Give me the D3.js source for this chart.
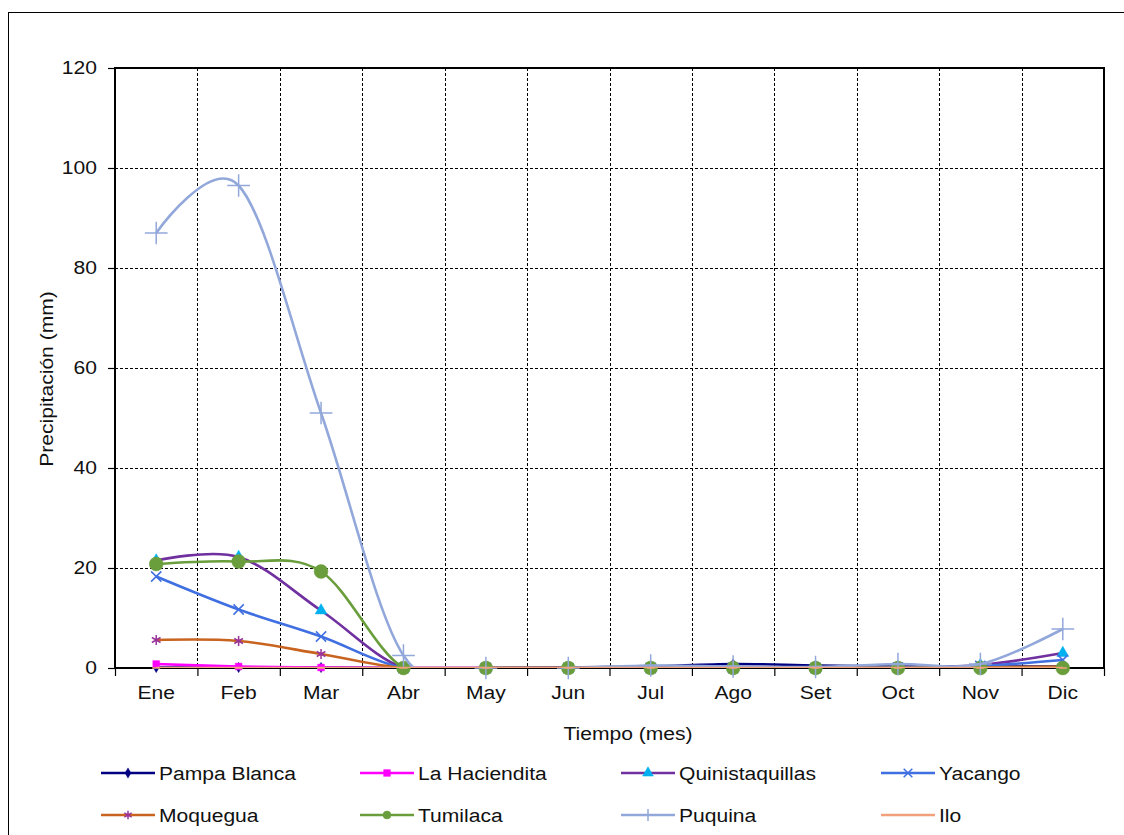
<!DOCTYPE html>
<html><head><meta charset="utf-8">
<script src="https://cdn.jsdelivr.net/npm/d3@7"></script>
<style>
html,body{margin:0;padding:0;background:#fff;}
svg text{font-family:"Liberation Sans",Arial,sans-serif;fill:#111;}
</style></head>
<body><svg id="c" width="1124" height="835"></svg>
<script>
const months = ["Ene","Feb","Mar","Abr","May","Jun","Jul","Ago","Set","Oct","Nov","Dic"];
const yTicks = [0,20,40,60,80,100,120];
const seriesNames = ["Pampa Blanca","La Haciendita","Quinistaquillas","Yacango","Moquegua","Tumilaca","Puquina","Ilo"];
const pampaBlanca    = [0.1,0.1,0.1,0,0,0.1,0.3,0.8,0.5,0.3,0.3,0.3];
const laHaciendita   = [0.8,0.3,0.1,0,0,0,0,0,0,0,0,0];
const quinistaquillas= [21.5,22.2,11.5,0,0,0,0,0,0,0.2,0.6,3.0];
const yacango        = [18.3,11.7,6.3,0,0,0,0,0,0,0.1,0.4,1.6];
const moquegua       = [5.6,5.4,2.8,0,0,0,0,0,0,0,0.1,0.3];
const tumilaca       = [20.8,21.3,19.3,0,0,0,0,0,0,0,0,0];
const puquina        = [87,96.5,51,2.5,0,0,0.5,0.3,0.2,0.8,0.8,7.8];
const ilo            = [0,0,0,0,0,0,0,0,0,0,0,0];
const seriesValues = [pampaBlanca,laHaciendita,quinistaquillas,yacango,moquegua,tumilaca,puquina,ilo];

const styles = [
  {line:"#000080", mk:"#000080", sym:"diamond", size:30},
  {line:"#FF00FF", mk:"#FF00FF", sym:"square", size:45},
  {line:"#7030A0", mk:"#00B0F0", sym:"triangle", size:60},
  {line:"#3F6FE0", mk:"#3F6FE0", sym:"times", size:70},
  {line:"#C86420", mk:"#993399", sym:"asterisk", size:70},
  {line:"#6A9E3C", mk:"#6A9E3C", sym:"circle", size:150},
  {line:"#93A8DA", mk:"#93A8DA", sym:"plus", size:170},
  {line:"#F2A07C", mk:"#F2A07C", sym:"dash", size:40}
];

const svg = d3.select("#c");
const L=115, T=68, R=1104, B=668;
const STRETCH = 1.17;
function stretch(sel){
  sel.each(function(){
    const len = this.getComputedTextLength();
    if(len>0){ d3.select(this).attr("textLength",len*STRETCH).attr("lengthAdjust","spacingAndGlyphs"); }
  });
}

svg.append("rect").attr("x",8.5).attr("y",12.5).attr("width",1140).attr("height",900)
  .attr("fill","#fff").attr("stroke","#000").attr("stroke-width",1);

const x = d3.scaleBand().domain(months).range([L,R]).paddingInner(0).paddingOuter(0);
const xb = d3.scaleLinear().domain([0,12]).range([L,R]);
const y = d3.scaleLinear().domain([0,120]).range([B,T]);
const cx = m => x(m)+x.bandwidth()/2;

// gridlines
const g = svg.append("g");
g.selectAll(".hg").data(yTicks.filter(v=>v>0&&v<120)).join("line")
  .attr("x1",L).attr("x2",R).attr("y1",d=>y(d)+0.5).attr("y2",d=>y(d)+0.5)
  .attr("stroke","#000").attr("stroke-width",1).attr("stroke-dasharray","3,2");
g.selectAll(".vg").data(d3.range(1,12)).join("line")
  .attr("x1",d=>Math.round(xb(d))+0.5).attr("x2",d=>Math.round(xb(d))+0.5).attr("y1",T).attr("y2",B)
  .attr("stroke","#000").attr("stroke-width",1).attr("stroke-dasharray","3,2");

// axes
const yAxis = svg.append("g").attr("transform",`translate(${L},0)`)
  .call(d3.axisLeft(y).tickValues(yTicks).tickSize(7).tickPadding(11));
yAxis.select(".domain").remove();
yAxis.selectAll("line").attr("stroke","#000").attr("stroke-width",1.2);
yAxis.selectAll("text").attr("font-size",18).attr("fill","#111").call(stretch);

const xTickAxis = svg.append("g").attr("transform",`translate(0,${B})`)
  .call(d3.axisBottom(xb).tickValues(d3.range(0,13)).tickSize(8).tickFormat(""));
xTickAxis.select(".domain").remove();
xTickAxis.selectAll("line").attr("stroke","#000").attr("stroke-width",1.2);

const xAxis = svg.append("g").attr("transform",`translate(0,${B})`)
  .call(d3.axisBottom(x).tickSize(0).tickPadding(18));
xAxis.select(".domain").remove();
xAxis.selectAll("text").attr("font-size",18).attr("fill","#111").call(stretch);

// plot border
svg.append("rect").attr("x",L).attr("y",T).attr("width",R-L).attr("height",B-T)
  .attr("fill","none").attr("stroke","#000").attr("stroke-width",2);

// clip
svg.append("clipPath").attr("id","clip").append("rect")
  .attr("x",L).attr("y",T).attr("width",R-L).attr("height",B-T);

function symPath(s,size){
  if(s==="dash") return `M-4,0H4`;
  const map={diamond:d3.symbolDiamond,square:d3.symbolSquare,triangle:d3.symbolTriangle,
    times:d3.symbolTimes,asterisk:d3.symbolAsterisk,circle:d3.symbolCircle,plus:d3.symbolPlus};
  return d3.symbol(map[s],size)();
}
const strokeSyms = new Set(["times","asterisk","plus","dash"]);
function drawMarker(sel, st){
  sel.attr("d",symPath(st.sym,st.size))
    .attr("fill",strokeSyms.has(st.sym)?"none":st.mk)
    .attr("stroke",st.mk).attr("stroke-width",strokeSyms.has(st.sym)?1.5:0.5);
}

const line = d3.line().x((d,i)=>cx(months[i])).y(d=>y(d)).curve(d3.curveCatmullRom.alpha(0));

seriesValues.forEach((vals,si)=>{
  const st = styles[si];
  const sg = svg.append("g");
  sg.append("path").attr("d",line(vals)).attr("fill","none").attr("stroke",st.line)
    .attr("stroke-width",2.6).attr("clip-path","url(#clip)");
  sg.selectAll("path.m").data(vals).join("path").attr("class","m")
    .attr("transform",(d,i)=>`translate(${cx(months[i])},${y(d)})`)
    .call(drawMarker, st);
});

// axis titles
svg.append("text").attr("x",628).attr("y",740).attr("text-anchor","middle")
  .attr("font-size",18).text("Tiempo (mes)").call(stretch);
svg.append("text").attr("transform",`translate(53,379) rotate(-90)`).attr("text-anchor","middle")
  .attr("font-size",18).text("Precipitación (mm)").call(stretch);

// legend
const legX=[101,360,621,881], legY=[773,815];
seriesNames.forEach((name,i)=>{
  const st=styles[i];
  const lx=legX[i%4], ly=legY[Math.floor(i/4)];
  const lg=svg.append("g").attr("transform",`translate(${lx},${ly})`);
  lg.append("line").attr("x1",0).attr("x2",54).attr("y1",0).attr("y2",0).attr("stroke",st.line).attr("stroke-width",2.6);
  lg.append("path").attr("transform","translate(27,0)").call(drawMarker,{...st,size:Math.min(st.size,50)});
  lg.append("text").attr("x",58).attr("y",6.5).attr("font-size",18).text(name).call(stretch);
});
</script></body></html>
